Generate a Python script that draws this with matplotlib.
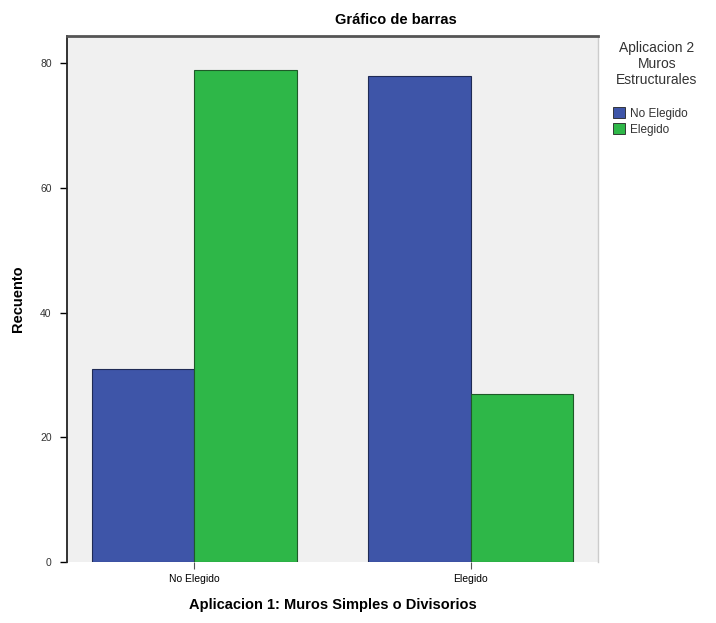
import matplotlib
matplotlib.use("Agg")
import matplotlib.pyplot as plt
import numpy as np
from matplotlib.patches import Patch

plt.rcParams['font.family'] = ['Liberation Sans', 'DejaVu Sans']

categories = ["No Elegido", "Elegido"]
series_names = ["No Elegido", "Elegido"]
no_elegido = [31, 78]
elegido = [79, 27]
yticks = [0, 20, 40, 60, 80]
colors = ["#3e55a8", "#2eb748"]

fig = plt.figure(figsize=(7.16, 6.23), dpi=100)
ax = fig.add_axes([67/716, 1-562/623, (598-67)/716, (562-36)/623])
ax.set_facecolor("#f0f0f0")

x = np.arange(len(categories))
w = 0.37
ax.bar(x - w/2, no_elegido, w, color=colors[0], edgecolor="#1f2a55", linewidth=0.8)
ax.bar(x + w/2, elegido, w, color=colors[1], edgecolor="#1e5a28", linewidth=0.8)

ax.set_xlim(-0.46, 1.46)
ax.set_ylim(0, 84.4)
ax.set_yticks(yticks)
ax.set_yticklabels([str(v) for v in yticks], fontsize=7.5, color="#333333")
ax.set_xticks(x)
ax.set_xticklabels(categories, fontsize=7.5)
ax.tick_params(axis='y', direction='out', length=5, width=1, pad=6)
ax.tick_params(axis='x', direction='out', length=5, width=0.8, color="#555555", pad=4)

ax.spines['left'].set_color("#222222")
ax.spines['left'].set_linewidth(1.3)
ax.spines['top'].set_color("#555555")
ax.spines['top'].set_linewidth(2)
ax.spines['right'].set_color("#cccccc")
ax.spines['right'].set_linewidth(1)
ax.spines['bottom'].set_visible(False)

ax.set_ylabel("Recuento", fontsize=10.5, fontweight='bold')
ax.yaxis.set_label_coords((25-67)/531, 0.5)
ax.set_xlabel("Aplicacion 1: Muros Simples o Divisorios", fontsize=10.5, fontweight='bold', labelpad=10)

fig.text(396/716, 1-20/623, "Gráfico de barras", ha='center', va='center', fontsize=10.5, fontweight='bold')

# legend title
fig.text(657/716, 1-64/623, "Aplicacion 2\nMuros\nEstructurales", ha='center', va='center',
         fontsize=10, color="#333333", linespacing=1.15, multialignment='center')

handles = [Patch(facecolor=colors[0], edgecolor="#222222", linewidth=0.6),
           Patch(facecolor=colors[1], edgecolor="#222222", linewidth=0.6)]
leg = fig.legend(handles, series_names, loc='upper left', bbox_to_anchor=(611/716, 1-105/623),
                 frameon=False, fontsize=8.5, handlelength=1.0, handleheight=1.0,
                 handletextpad=0.4, labelspacing=0.3, borderaxespad=0, borderpad=0.2)
for t in leg.get_texts():
    t.set_color("#333333")

fig.savefig("out.png", dpi=100)
